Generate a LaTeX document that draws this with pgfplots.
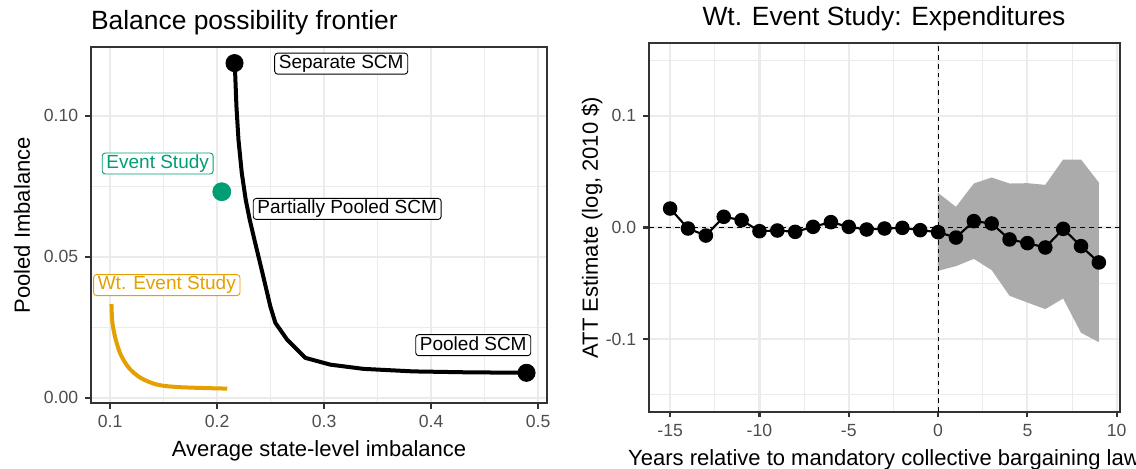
\documentclass[border=0pt]{standalone}
\usepackage{fontspec}
\setmainfont{Liberation Sans}
\usepackage{pgfplots}
\pgfplotsset{compat=1.18}
\definecolor{gridc}{HTML}{EBEBEB}
\definecolor{framec}{HTML}{333333}
\definecolor{tickc}{HTML}{4D4D4D}
\definecolor{esgreen}{HTML}{009E73}
\definecolor{wtorange}{HTML}{E69F00}
\definecolor{ribbonc}{HTML}{ABABAB}
\pgfplotsset{ggbw/.style={
  scale only axis,
  axis line style={framec, line width=1.07pt},
  grid=both,
  major grid style={gridc, line width=1.07pt},
  minor grid style={gridc, line width=0.53pt},
  tick align=outside, tick pos=left,
  major tick length=2.75pt, minor tick length=0pt,
  every tick/.style={framec, line width=1.07pt},
  tick label style={font=\fontsize{8.8}{10}\selectfont, text=tickc},
  /pgf/number format/assume math mode=true,
}}
\tikzset{lab/.style={draw=#1, text=#1, line width=0.45pt, fill=white, rounded corners=1.5pt,
  inner xsep=2.1pt, inner ysep=0.8pt, text height=6.9pt, text depth=2pt,
  font=\fontsize{9.5}{11}\selectfont, anchor=center}}
\begin{document}
\begin{tikzpicture}
\useasboundingbox (0,0) rectangle (568pt,234pt);
% ---------------- Left panel ----------------
\begin{axis}[ggbw,
  at={(45.35pt,32.5pt)}, anchor=south west,
  width=228.3pt, height=177.85pt,
  xmin=0.0819, xmax=0.5086, ymin=-0.0018, ymax=0.1243,
  xtick={0.1,0.2,0.3,0.4,0.5}, xticklabels={0.1,0.2,0.3,0.4,0.5},
  ytick={0,0.05,0.1}, yticklabels={0.00,0.05,0.10},
  minor xtick={0.15,0.25,0.35,0.45}, minor ytick={0.025,0.075},
  clip=false]
\addplot[black, line width=2pt, line join=round] coordinates {
(0.2163,0.1187) (0.2169,0.1151) (0.2181,0.1033) (0.2200,0.0915) (0.2231,0.0797)
(0.2268,0.0702) (0.2305,0.0632) (0.2349,0.0561) (0.2424,0.0443) (0.2498,0.0324)
(0.2545,0.0266) (0.2654,0.0207) (0.2825,0.0142) (0.3058,0.0118) (0.3368,0.0103)
(0.3835,0.0094) (0.4301,0.0091) (0.4892,0.0089)};
\addplot[wtorange, line width=2pt, line join=round, smooth, tension=0.5] coordinates {
(0.1013,0.0333) (0.1022,0.0266) (0.1053,0.0207) (0.1100,0.0153) (0.1177,0.0106)
(0.1286,0.0071) (0.1442,0.0047) (0.1659,0.0038) (0.2095,0.0033)};
\addplot[only marks, mark=*, mark size=4.3pt, black] coordinates {(0.2163,0.1187) (0.4892,0.0089)};
\addplot[only marks, mark=*, mark size=4.5pt, esgreen] coordinates {(0.2044,0.0731)};
\node[lab=black] at (axis cs:0.316,0.1185) {Separate SCM};
\node[lab=black] at (axis cs:0.3216,0.0670) {Partially Pooled SCM};
\node[lab=black] at (axis cs:0.4394,0.0187) {Pooled SCM};
\node[lab=esgreen] at (axis cs:0.1445,0.0831) {Event Study};
\node[lab=wtorange] at (axis cs:0.1530,0.0400) {Wt. Event Study};
\end{axis}
% ---------------- Right panel ----------------
\begin{axis}[ggbw,
  at={(324.35pt,28.15pt)}, anchor=south west,
  width=235.8pt, height=184.2pt,
  xmin=-16.2, xmax=10.2, ymin=-0.165, ymax=0.165,
  xtick={-15,-10,-5,0,5,10}, xticklabels={-15,-10,-5,0,5,10},
  ytick={-0.1,0,0.1}, yticklabels={-0.1,0.0,0.1},
  minor xtick={-12.5,-7.5,-2.5,2.5,7.5}, minor ytick={-0.15,-0.05,0.05,0.15}]
\addplot[draw=none, fill=ribbonc] coordinates {
(0,0.0310) (1,0.0185) (2,0.0394) (3,0.0448) (4,0.0394) (5,0.0397) (6,0.0382) (7,0.0609) (8,0.0609) (9,0.0403)
(9,-0.1027) (8,-0.0943) (7,-0.0636) (6,-0.0731) (5,-0.0672) (4,-0.0612) (3,-0.0382) (2,-0.0281) (1,-0.0346) (0,-0.0388)} -- cycle;
\addplot[black, line width=1.07pt, mark=*, mark size=3.1pt] coordinates {
(-15,0.0170) (-14,-0.0009) (-13,-0.0072) (-12,0.0096) (-11,0.0066) (-10,-0.0033)
(-9,-0.0027) (-8,-0.0039) (-7,0.0006) (-6,0.0048) (-5,0.0006) (-4,-0.0018)
(-3,-0.0009) (-2,-0.0003) (-1,-0.0024) (0,-0.0042) (1,-0.0090) (2,0.0057)
(3,0.0036) (4,-0.0107) (5,-0.0140) (6,-0.0179) (7,-0.0012) (8,-0.0167) (9,-0.0313)};
\addplot[black, line width=0.55pt, dash pattern=on 2.4pt off 2pt] coordinates {(-16.2,0) (10.2,0)};
\addplot[black, line width=0.55pt, dash pattern=on 2.4pt off 2pt] coordinates {(0,-0.165) (0,0.165)};
\end{axis}
% ---------------- Titles and axis titles ----------------
\node[anchor=base west, inner sep=0, font=\fontsize{13.2}{15}\selectfont] at (45.35pt,219.15pt) {Balance possibility frontier};
\node[anchor=base, inner sep=0, font=\fontsize{13.2}{15}\selectfont] at (442pt,221.15pt) {Wt. Event Study: Expenditures};
\node[anchor=base, inner sep=0, font=\fontsize{11}{13}\selectfont] at (159.5pt,5.7pt) {Average state-level imbalance};
\node[anchor=base, inner sep=0, font=\fontsize{11}{13}\selectfont] at (442pt,1.35pt) {Years relative to mandatory collective bargaining law};
\node[anchor=base, rotate=90, inner sep=0, font=\fontsize{11}{13}\selectfont] at (15pt,121.4pt) {Pooled Imbalance};
\node[anchor=base, rotate=90, inner sep=0, font=\fontsize{11}{13}\selectfont] at (298.9pt,120.25pt) {ATT Estimate (log, 2010 \$)};
\end{tikzpicture}
\end{document}
